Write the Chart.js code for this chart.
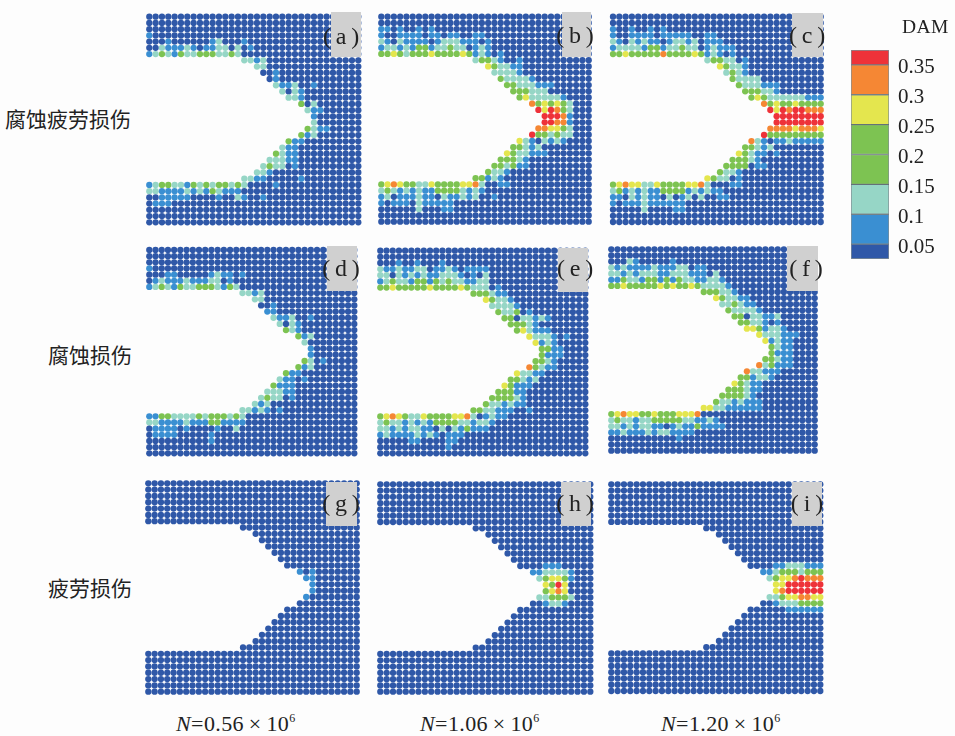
<!DOCTYPE html>
<html><head><meta charset="utf-8">
<script src="https://cdn.jsdelivr.net/npm/chart.js@4"></script>
<style>
html,body{margin:0;padding:0;background:#fdfdfd;width:955px;height:736px;overflow:hidden}
canvas{position:absolute;display:block}
.t{position:absolute;white-space:nowrap;color:#222}
.box{position:absolute;background:#d0d0d0}
.tag{position:absolute;white-space:nowrap;color:#222;font:24px/28px "Liberation Serif";transform:translateX(-50%)}
.cn{font-family:"Noto Sans CJK SC";font-size:21px;line-height:26px;letter-spacing:0}
.n{font-family:"Liberation Serif";font-size:22px;line-height:26px;letter-spacing:.4px}
.n sup{font-size:12px;line-height:0;vertical-align:9px}
</style></head><body>
<script>
// Legend bins and values
const damEdges=[0.025,0.05,0.1,0.15,0.2,0.25,0.3,0.35,0.375];
const damColors=["#2f58a8","#3a8fd2","#96d6c6","#7dc352","#7dc352","#e4e64e","#f58734","#ee3239"];
const damTicks=[0.05,0.1,0.15,0.2,0.25,0.3,0.35];
// representative DAM value of each digit used in the panel rows
const levelValues=[0.03,0.075,0.125,0.21,0.275,0.325,0.36];
// first solid column of rows 7..26 (the notch)
const notchStart=[15,17,18,19,20,21,22,24,25,26,26,25,24,22,21,20,19,18,17,15];
const gridSize=34;
// Rows: digits start at the first solid column, anything unlisted is level 0
const panelA=["","","","1","0001000000120001","00211121011220201","123213223332232","2212","22","001","01","2112001","2021","221","302","211","1","2","3211","312","311","211","3211","22211","232201","221","2211000001","123322132323323200001","221111212132111","0011111000010021001","0111","","",""];
const panelB=["","","110100101","10011110110110011","210211110122211101","122121331223220121","33432333433334312101","23321001","432211","22221","322221","33222111","333222","34222221","5343432","646532","66651","66551","554432","6332322","42102121","33212","4322111","33321","332311","3221","33121","345433224333344520011","23212121133332121","1201112110211212001","101110211111","000000200011","",""];
const panelC=["","","100100101","10011110111110011","210212110122120111","12222133122322012111","33433333533334312101","2332201","43221","2321","32222","3222111","333221","343222222111","5343343333","646566555","66666666","66666666","555545554","6333333333","521011211111","33212","4321101","33321","3333011","3221","432201","345442243333445200011","231212113333121211","1102121102012020011","101112111111","000002000011","",""];
const panelD=["","","","1","0001100000121101","01211121112201","123213223332132","2212","220","001","11","2112001","2021","321","312","20","1","1","3201","312","3110","21101","3111","22211","232201","212","2212101","1133222232333232","2211112111331111","011110100001002","01111000001","00000000001","",""];
const panelE=["","","0001001000100","211211220112101111","220212121122210102","123221331323221122","33433333433334322201","3332110","43221","22221","322301","33022121","33321","342111","4222101","4121","3311","3111","3321","53211","42211","33212","43111","33311","333321","3221211","3322111001","345432243333445201211","2322121213333221221","221212211020213111","121111212101110","0000011000011","000000000001",""];
const panelF=["","","0002100000100","2121111211122011","221212221122211102","1132213313132211221","33433333434334322221","3332210","432211","223211","322221","33022112","3322101","4431221","4222111","41211","3211","3111","33211","523111","522111","331221","43211","333211","333321","32212111","4422111111","3454433433344450","232212233333221121","2212122110121131111","11211121221111","000000000001","",""];
const panelG=["","","","","","","","","","","","","","","101","11","1","1","1","","","","","","","","","","","","","","",""];
const panelH=["","","","","","","","","","","","","","0000111","1122221","234431","4364","3454","223332","001221","","","","","","","","","","","","","",""];
const panelI=["","","","","","","","","","","","","","000011222111","1123332333","234456555","44666666","45666666","223445544","0012223333","000000111111","","","","","","","","","","","","",""];
const panelRows=[panelA,panelB,panelC,panelD,panelE,panelF,panelG,panelH,panelI];
const panelLabels=["a","b","c","d","e","f","g","h","i"];
const rowTitles=["腐蚀疲劳损伤","腐蚀损伤","疲劳损伤"];
const cycleLabels=["0.56","1.06","1.20"];

// Layout: centre of first and last dot [x0,x1,y0,y1], gray tag [l,r,t,b], tag text centre [x,y]
const panelFrames=[[149.3,358.3,16.7,222.3],[381.3,588.7,16.7,221.7],[613,820.7,16.7,222],
 [149.3,354.3,250,453.3],[380.3,585.3,250.7,453.3],[611.3,814.7,249.3,450.7],
 [148.3,356.7,483.3,691.7],[380.3,590.3,484.3,691.7],[611.3,820.3,484.3,691]];
const tagFrames=[[331,361,12,57],[562,591,12,57],[792,823,13,57],
 [327,357,246,291],[558,588,248,292],[787,818,246,291],
 [326,357,482,526],[561,591,482,526],[792,822,482,526]];
const tagText=[[341,36],[575,35],[807,35],[341,268],[575,268],[806,268],[341,503],[575,503],[807,503]];

function colorOf(v){for(let i=0;i<damColors.length;i++){if(v<damEdges[i+1])return damColors[i];}return damColors[damColors.length-1];}
function solidStart(r){return (r>=7&&r<=26)?notchStart[r-7]:0;}
function add(tag,cls,html,css){const e=document.createElement(tag);e.className=cls;e.innerHTML=html;Object.assign(e.style,css);document.body.appendChild(e);return e;}

panelRows.forEach((rows,p)=>{
  const [x0,x1,y0,y1]=panelFrames[p];
  const px=(x1-x0)/(gridSize-1),py=(y1-y0)/(gridSize-1);
  const L=Math.floor(x0-6),T=Math.floor(y0-6),W=Math.ceil(x1+6)-L,H=Math.ceil(y1+6)-T;
  const pts=[];
  for(let r=0;r<gridSize;r++){
    const s=solidStart(r);
    for(let c=s;c<gridSize;c++){
      const d=rows[r][c-s];
      pts.push({x:c,y:r,v:levelValues[d===undefined?0:+d]});
    }
  }
  const cv=document.createElement('canvas');
  cv.width=W;cv.height=H;
  cv.style.left=L+'px';cv.style.top=T+'px';cv.style.width=W+'px';cv.style.height=H+'px';
  document.body.appendChild(cv);
  new Chart(cv,{type:'scatter',
    data:{datasets:[{label:'DAM ('+panelLabels[p]+')',data:pts,
      pointRadius:3.15,pointBorderWidth:0,pointBackgroundColor:pts.map(q=>colorOf(q.v))}]},
    options:{responsive:false,animation:false,events:[],
      layout:{padding:0,autoPadding:false},
      plugins:{legend:{display:false},tooltip:{enabled:false}},
      scales:{
        x:{type:'linear',display:false,min:(L-x0)/px,max:(L+W-x0)/px},
        y:{type:'linear',display:false,reverse:true,min:(T-y0)/py,max:(T+H-y0)/py}
      }}});
  const [l,r,t,b]=tagFrames[p];
  add('div','box','',{left:l+'px',top:t+'px',width:(r-l)+'px',height:(b-t)+'px'});
  add('div','tag','(&thinsp;'+panelLabels[p]+'&thinsp;)',{left:tagText[p][0]+'px',top:(tagText[p][1]-14)+'px'});
});

// Row titles
[[5,105],[48,341],[48,574]].forEach((pos,i)=>{
  add('div','t cn',rowTitles[i],{left:pos[0]+'px',top:pos[1]+'px'});
});
// Cycle labels
[176,420,661].forEach((x,i)=>{
  add('div','t n','<i>N</i>=' + cycleLabels[i] + '&thinsp;×&thinsp;10<sup>6</sup>',{left:x+'px',top:711+'px'});
});
add('div','t','DAM',{left:'902px',top:'16px',font:'19.5px "Liberation Serif"',letterSpacing:'.4px'});

// Colour bar
const cb=document.createElement('canvas');
cb.width=104;cb.height=233;
Object.assign(cb.style,{left:'851px',top:'38px',width:'104px',height:'233px'});
document.body.appendChild(cb);
new Chart(cb,{type:'bar',
  data:{labels:['DAM'],datasets:damColors.map((c,i)=>({label:String(damEdges[i+1]),data:[[damEdges[i],damEdges[i+1]]],
    backgroundColor:c,borderColor:'rgba(30,50,60,.55)',borderWidth:1,borderSkipped:false,
    barPercentage:1,categoryPercentage:1,grouped:false}))},
  options:{responsive:false,animation:false,events:[],
    layout:{padding:{top:12,bottom:12,left:0,right:0},autoPadding:false},
    plugins:{legend:{display:false},tooltip:{enabled:false}},
    scales:{
      x:{display:false},
      y:{position:'right',min:0.025,max:0.375,
        afterFit:a=>{a.width=66;a.paddingTop=0;a.paddingBottom=0;},
        afterBuildTicks:a=>{a.ticks=damTicks.map(v=>({value:v}));},
        grid:{display:false,drawTicks:false},border:{display:false},
        ticks:{padding:9,labelOffset:3,autoSkip:false,color:'#222',font:{family:'Liberation Serif',size:21},callback:v=>String(v)}}
    }}});
</script>
</body></html>
